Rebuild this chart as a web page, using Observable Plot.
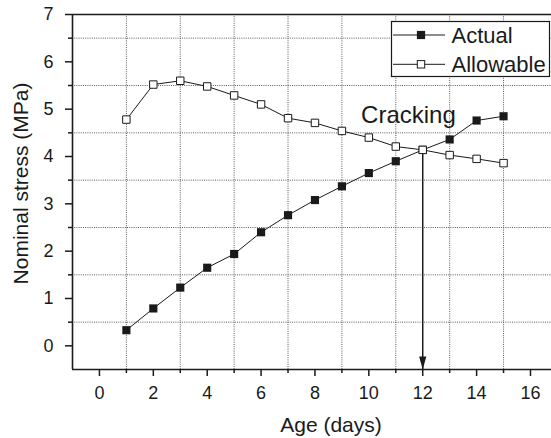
<!DOCTYPE html>
<html><head><meta charset="utf-8">
<script src="https://cdn.jsdelivr.net/npm/d3@7"></script>
<script src="https://cdn.jsdelivr.net/npm/@observablehq/plot@0.6"></script>
<style>
body{margin:0;background:#fff;}
#wrap{position:relative;width:551px;height:438px;}
</style></head><body><div id="wrap"></div>
<script>
const days = [1,2,3,4,5,6,7,8,9,10,11,12,13,14,15];
const actual = [0.33,0.79,1.23,1.65,1.94,2.40,2.76,3.08,3.37,3.65,3.90,4.14,4.36,4.76,4.85];
const allowable = [4.78,5.52,5.60,5.48,5.29,5.10,4.81,4.71,4.54,4.40,4.21,4.14,4.03,3.95,3.86];
const xTicks = [0,2,4,6,8,10,12,14,16];
const xMinor = [1,3,5,7,9,11,13,15];
const yTicks = [0,1,2,3,4,5,6,7];
const yMinor = [0.5,1.5,2.5,3.5,4.5,5.5,6.5];
const seriesNames = ["Actual","Allowable"];
const crackDay = 12;
const crackStress = 4.14;
const crackLabel = "Cracking";
const xLabel = "Age (days)";
const yLabel = "Nominal stress (MPa)";

const ink = "#1a1a1a";
const font = "'Liberation Sans', Arial, Helvetica, sans-serif";
const actualData = days.map((d,i)=>({x:d,y:actual[i]}));
const allowData = days.map((d,i)=>({x:d,y:allowable[i]}));

const arrowHead = {draw(ctx){ctx.moveTo(0,0);ctx.lineTo(-3.6,-13);ctx.lineTo(3.6,-13);ctx.closePath();}};

const chart = Plot.plot({
  width: 551, height: 438,
  marginLeft: 72, marginTop: 14, marginBottom: 69, marginRight: 0,
  style: {fontFamily: font, fontSize: "18px", color: ink, background: "#fff"},
  x: {domain: [-1, 16.78]},
  y: {domain: [-0.5, 7]},
  marks: [
    Plot.gridX(xMinor, {stroke: "#333", strokeOpacity: 1, strokeWidth: 0.8, strokeDasharray: "1,1.2"}),
    Plot.gridY(yMinor, {stroke: "#333", strokeOpacity: 1, strokeWidth: 0.8, strokeDasharray: "1,1.2"}),
    Plot.ruleY([7], {stroke: ink, strokeWidth: 1.6}),
    Plot.ruleY([-0.5], {stroke: ink, strokeWidth: 1.6}),
    Plot.ruleX([-1], {stroke: ink, strokeWidth: 1.6}),
    Plot.axisX({ticks: xTicks, tickSize: 7, tickPadding: 10, label: null, stroke: ink, strokeWidth: 1.5}),
    Plot.axisX({ticks: xMinor, tickSize: 4, tickFormat: () => "", label: null, stroke: ink, strokeWidth: 1.5}),
    Plot.axisY({ticks: yTicks, tickSize: 7, tickPadding: 12, label: null, stroke: ink, strokeWidth: 1.5}),
    Plot.axisY({ticks: yMinor, tickSize: 4, tickFormat: () => "", label: null, stroke: ink, strokeWidth: 1.5}),
    Plot.ruleX([crackDay], {y1: crackStress, y2: -0.5, stroke: ink, strokeWidth: 1.5}),
    Plot.dot([{x: crackDay, y: -0.5}], {x: "x", y: "y", symbol: arrowHead, fill: ink, stroke: "none"}),
    Plot.line(actualData, {x: "x", y: "y", stroke: ink, strokeWidth: 1}),
    Plot.dot(actualData, {x: "x", y: "y", symbol: "square", r: 4.6, fill: ink, stroke: "none"}),
    Plot.line(allowData, {x: "x", y: "y", stroke: ink, strokeWidth: 1}),
    Plot.dot(allowData, {x: "x", y: "y", symbol: "square", r: 4.2, fill: "#fff", stroke: ink, strokeWidth: 1}),
    Plot.text([crackLabel], {x: 11.47, y: 4.70, text: d => d, fontSize: 24, textAnchor: "middle", lineAnchor: "bottom", fill: ink}),
    Plot.text([xLabel], {frameAnchor: "bottom", text: d => d, fontSize: 21, textAnchor: "middle", dx: 19, dy: 62.5, lineAnchor: "bottom", fill: ink}),
    Plot.text([yLabel], {frameAnchor: "left", text: d => d, fontSize: 21, textAnchor: "middle", rotate: -90, dx: -45, dy: -8.5, lineAnchor: "bottom", fill: ink})
  ]
});
document.getElementById("wrap").appendChild(chart);

// in-frame legend
const svg = d3.select(chart);
const lg = svg.append("g").style("font-family", font).style("font-size", "22px").attr("fill", ink);
lg.append("rect").attr("x", 391.5).attr("y", 21.5).attr("width", 158).attr("height", 55)
  .attr("fill", "#fff").attr("stroke", ink).attr("stroke-width", 1.2);
seriesNames.forEach((name, i) => {
  const cy = 35 + i * 29.3;
  lg.append("line").attr("x1", 393).attr("x2", 445).attr("y1", cy).attr("y2", cy)
    .attr("stroke", ink).attr("stroke-width", 1);
  const s = i === 0 ? 8.2 : 7.4;
  lg.append("rect").attr("x", 421 - s/2).attr("y", cy - s/2).attr("width", s).attr("height", s)
    .attr("fill", i === 0 ? ink : "#fff").attr("stroke", i === 0 ? "none" : ink).attr("stroke-width", 1);
  lg.append("text").attr("x", 451.5).attr("y", cy).attr("dy", "0.36em")
    .style("text-anchor", "start").style("font-size", "22px").text(name);
});
</script>
</body></html>
